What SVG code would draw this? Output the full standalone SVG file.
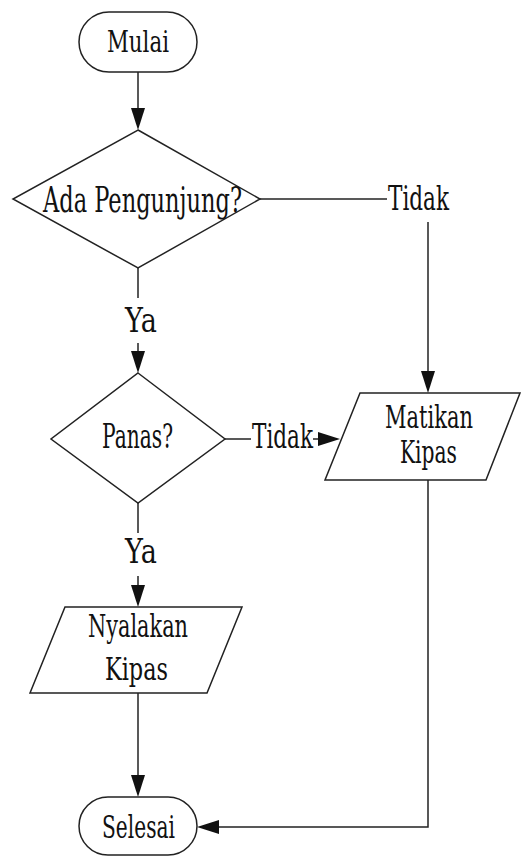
<svg xmlns="http://www.w3.org/2000/svg" width="522" height="857" viewBox="0 0 522 857">
<defs>
<style>
.s{fill:#fff;stroke:#222;stroke-width:1.5}
.c{fill:none;stroke:#222;stroke-width:1.5}
.ah{fill:#111;stroke:none}
text{font-family:"DejaVu Serif","Liberation Serif",serif;fill:#111}
</style>
</defs>
<rect width="522" height="857" fill="#fff"/>
<g id="connectors">
<line class="c" x1="138" y1="72" x2="138" y2="112"/>
<path class="ah" d="M131,108 L145,108 L138,130 Z"/>
<line class="c" x1="138" y1="268" x2="138" y2="298"/>
<line class="c" x1="138" y1="343" x2="138" y2="356"/>
<path class="ah" d="M131,351 L145,351 L138,373 Z"/>
<line class="c" x1="260" y1="199" x2="387" y2="199"/>
<line class="c" x1="428" y1="222" x2="428" y2="376"/>
<path class="ah" d="M421,371 L435,371 L428,393 Z"/>
<line class="c" x1="225" y1="439" x2="251" y2="439"/>
<line class="c" x1="313" y1="439" x2="322" y2="439"/>
<path class="ah" d="M318,432 L318,446 L340,439 Z"/>
<line class="c" x1="138" y1="503" x2="138" y2="533"/>
<line class="c" x1="138" y1="576" x2="138" y2="590"/>
<path class="ah" d="M131,585 L145,585 L138,607 Z"/>
<line class="c" x1="138" y1="693" x2="138" y2="780"/>
<path class="ah" d="M131,775 L145,775 L138,797 Z"/>
<polyline class="c" points="428,480 428,827 214,827"/>
<path class="ah" d="M219,820 L219,834 L197,827 Z"/>
<text x="388" y="210" font-size="34" textLength="61" lengthAdjust="spacingAndGlyphs">Tidak</text>
<text x="125" y="332" font-size="33" textLength="32" lengthAdjust="spacingAndGlyphs">Ya</text>
<text x="252" y="448" font-size="33" textLength="61" lengthAdjust="spacingAndGlyphs">Tidak</text>
<text x="125" y="563" font-size="33" textLength="32" lengthAdjust="spacingAndGlyphs">Ya</text>
</g>
<g id="mulai">
<rect class="s" x="79" y="12" width="118" height="60" rx="30" ry="30"/>
<text x="107" y="52" font-size="30" textLength="62" lengthAdjust="spacingAndGlyphs">Mulai</text>
</g>
<g id="ada-pengunjung">
<polygon class="s" points="138,130 260,199 138,268 13,199"/>
<text x="43" y="212" font-size="36" textLength="199" lengthAdjust="spacingAndGlyphs">Ada Pengunjung?</text>
</g>
<g id="panas">
<polygon class="s" points="138,373 225,439 138,503 51,439"/>
<text x="102" y="448" font-size="33" textLength="71" lengthAdjust="spacingAndGlyphs">Panas?</text>
</g>
<g id="matikan-kipas">
<polygon class="s" points="360,393 520,393 486,480 325,480"/>
<text x="385" y="428" font-size="32" textLength="88" lengthAdjust="spacingAndGlyphs">Matikan</text>
<text x="400" y="463" font-size="32" textLength="57" lengthAdjust="spacingAndGlyphs">Kipas</text>
</g>
<g id="nyalakan-kipas">
<polygon class="s" points="65,607 242,607 207,693 30,693"/>
<text x="88" y="637" font-size="32" textLength="100" lengthAdjust="spacingAndGlyphs">Nyalakan</text>
<text x="105" y="680" font-size="32" textLength="63" lengthAdjust="spacingAndGlyphs">Kipas</text>
</g>
<g id="selesai">
<rect class="s" x="79" y="797" width="118" height="58" rx="29" ry="29"/>
<text x="102" y="838" font-size="31" textLength="73" lengthAdjust="spacingAndGlyphs">Selesai</text>
</g>
</svg>
